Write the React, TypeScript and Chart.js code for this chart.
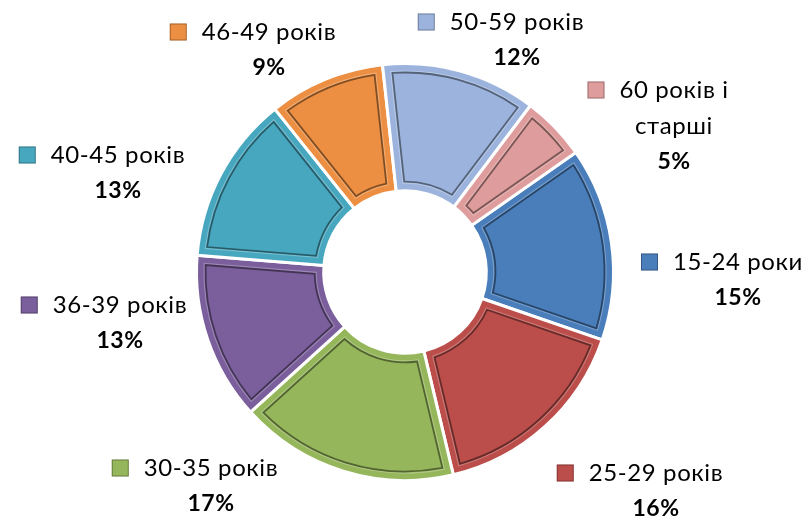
import React, { useEffect, useRef } from "react";
import { Chart, registerables } from "chart.js";
Chart.register(...registerables);

const CATEGORIES = [
  "15-24 роки",
  "25-29 років",
  "30-35 років",
  "36-39 років",
  "40-45 років",
  "46-49 років",
  "50-59 років",
  "60 років і старші",
];
const VALUES = [15, 16, 17, 13, 13, 9, 12, 5];
const COLORS = ["#4A7EBB", "#BB4E4B", "#95B65A", "#7B5F9C", "#47A7BF", "#EC8F42", "#9CB4DD", "#DE9D9C"];
// label anchor offsets (layout) relative to doughnut centre: centre x of text, middle y of first line
const LABEL_OFFSETS: [number, number][] = [
  [333, -10],
  [251, 201],
  [-194, 196],
  [-285, 33],
  [-287, -117],
  [-136, -240],
  [112, -250],
  [269, -182],
];

const FONT_FAMILY = "Lato, 'Open Sans', sans-serif";
const LINE_H = 36;

function wrap(ctx: CanvasRenderingContext2D, text: string, maxW: number): string[] {
  const words = text.split(" ");
  const lines: string[] = [];
  let cur = "";
  for (const w of words) {
    const t = cur ? cur + " " + w : w;
    if (ctx.measureText(t).width > maxW && cur) {
      lines.push(cur);
      cur = w;
    } else cur = t;
  }
  if (cur) lines.push(cur);
  return lines;
}

const bevelPlugin = {
  id: "bevel",
  afterDatasetsDraw(chart: any) {
    const ctx = chart.ctx as CanvasRenderingContext2D;
    const meta = chart.getDatasetMeta(0);
    meta.data.forEach((arc: any) => {
      const p = arc.getProps(["x", "y", "startAngle", "endAngle", "innerRadius", "outerRadius"], true);
      const inset = 9;
      const ro = p.outerRadius - inset;
      const ri = p.innerRadius + inset;
      const draw = (off: number, color: string, w: number) => {
        const r1 = ro + off;
        const r2 = ri - off;
        const ins = inset - off;
        ctx.beginPath();
        ctx.arc(p.x, p.y, r1, p.startAngle + ins / r1, p.endAngle - ins / r1);
        ctx.arc(p.x, p.y, r2, p.endAngle - ins / r2, p.startAngle + ins / r2, true);
        ctx.closePath();
        ctx.strokeStyle = color;
        ctx.lineWidth = w;
        ctx.stroke();
      };
      ctx.save();
      draw(1.5, "rgba(255,255,255,0.25)", 1.2);
      draw(0, "rgba(0,0,0,0.45)", 1.8);
      ctx.restore();
    });
  },
};

const labelPlugin = {
  id: "outLabels",
  afterDraw(chart: any) {
    const ctx = chart.ctx as CanvasRenderingContext2D;
    const meta = chart.getDatasetMeta(0);
    const data: number[] = chart.data.datasets[0].data;
    const total = data.reduce((a, b) => a + b, 0);
    ctx.save();
    ctx.textBaseline = "middle";
    ctx.textAlign = "center";
    meta.data.forEach((arc: any, i: number) => {
      const cx = arc.x;
      const cy = arc.y;
      const [ox, oy] = LABEL_OFFSETS[i];
      const tx = cx + ox;
      const ty = cy + oy;
      ctx.font = `24px ${FONT_FAMILY}`;
      (ctx as any).letterSpacing = "0.6px";
      const lines = wrap(ctx, chart.data.labels[i], 150);
      const w0 = ctx.measureText(lines[0]).width;
      ctx.fillStyle = "#000";
      lines.forEach((ln, k) => ctx.fillText(ln, tx, ty + k * LINE_H));
      // legend key
      const sz = 17;
      const sx = tx - w0 / 2 - 15 - sz;
      const sy = ty - sz / 2;
      ctx.fillStyle = COLORS[i];
      ctx.fillRect(sx, sy, sz, sz);
      ctx.strokeStyle = "rgba(0,0,0,0.3)";
      ctx.lineWidth = 1;
      ctx.strokeRect(sx + 0.5, sy + 0.5, sz - 1, sz - 1);
      // percent
      ctx.font = `bold 23px ${FONT_FAMILY}`;
      (ctx as any).letterSpacing = "0.5px";
      ctx.fillStyle = "#000";
      const pct = Math.round((data[i] / total) * 100) + "%";
      ctx.fillText(pct, tx, ty + lines.length * LINE_H);
    });
    ctx.restore();
  },
};

export default function App() {
  const ref = useRef<HTMLCanvasElement>(null);
  useEffect(() => {
    document.body.style.margin = "0";
    const chart = new Chart(ref.current!, {
      type: "doughnut",
      data: {
        labels: CATEGORIES,
        datasets: [
          {
            data: VALUES,
            backgroundColor: COLORS,
            borderColor: "#ffffff",
            borderWidth: 3,
            borderJoinStyle: "miter",
          },
        ],
      },
      options: {
        responsive: false,
        animation: false,
        devicePixelRatio: 1,
        rotation: 55,
        cutout: "39%",
        layout: { padding: { left: 195, right: 193, top: 62, bottom: 37 } },
        plugins: { legend: { display: false }, tooltip: { enabled: false } },
      },
      plugins: [bevelPlugin, labelPlugin],
    } as any);
    return () => chart.destroy();
  }, []);
  return (
    <div style={{ width: 808, height: 519, background: "#fff" }}>
      <canvas ref={ref} width={808} height={519} />
    </div>
  );
}
